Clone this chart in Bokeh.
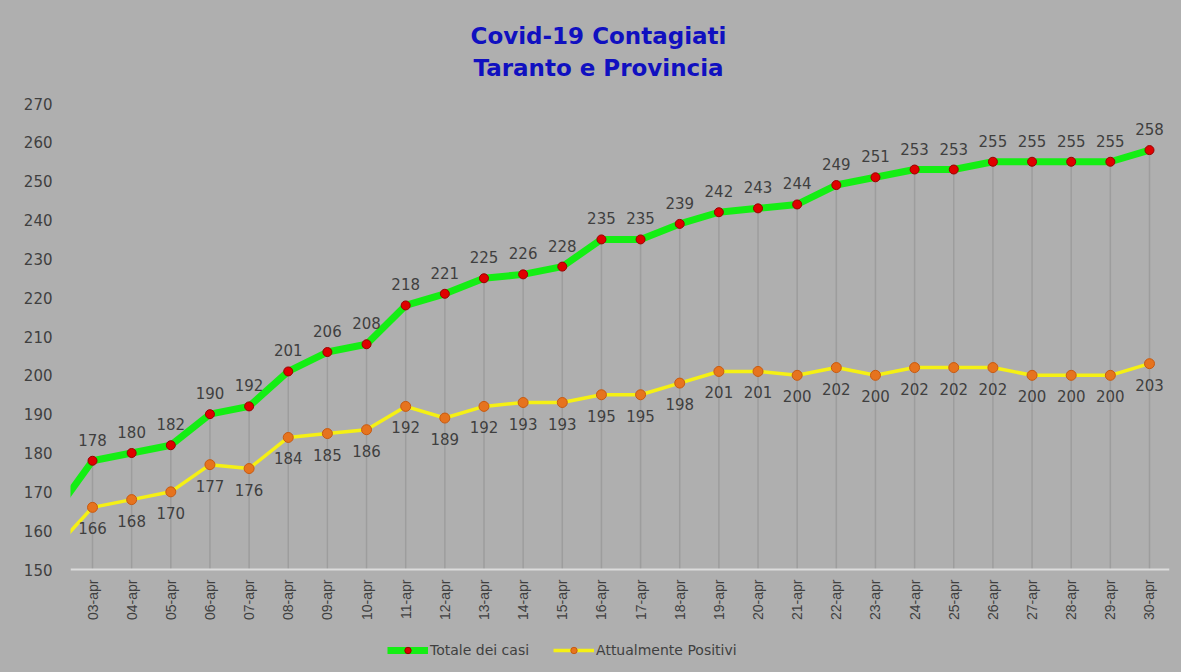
from bokeh.plotting import figure
from bokeh.models import ColumnDataSource, LabelSet, Label, Legend, LegendItem, FixedTicker, Range1d
from bokeh.core.properties import value
from bokeh.embed import file_html
from bokeh.resources import INLINE
import math

# ---- data ----
dates = ["02-apr", "03-apr", "04-apr", "05-apr", "06-apr", "07-apr", "08-apr", "09-apr", "10-apr",
         "11-apr", "12-apr", "13-apr", "14-apr", "15-apr", "16-apr", "17-apr", "18-apr",
         "19-apr", "20-apr", "21-apr", "22-apr", "23-apr", "24-apr", "25-apr", "26-apr",
         "27-apr", "28-apr", "29-apr", "30-apr"]
totale = [164, 178, 180, 182, 190, 192, 201, 206, 208, 218, 221, 225, 226, 228, 235, 235,
          239, 242, 243, 244, 249, 251, 253, 253, 255, 255, 255, 255, 258]
positivi = [155, 166, 168, 170, 177, 176, 184, 185, 186, 192, 189, 192, 193, 193, 195, 195,
            198, 201, 201, 200, 202, 200, 202, 202, 202, 200, 200, 200, 203]
y_ticks = [150, 160, 170, 180, 190, 200, 210, 220, 230, 240, 250, 260, 270]

idx = [i - 1 for i in range(len(dates))]  # 02-apr sits just left of the visible area
full = ColumnDataSource(dict(x=idx, tot=totale, pos=positivi))
vis = ColumnDataSource(dict(x=idx[1:], tot=totale[1:], pos=positivi[1:],
                            tot_s=[str(v) for v in totale[1:]],
                            pos_s=[str(v) for v in positivi[1:]],
                            base=[y_ticks[0]] * (len(dates) - 1)))

BG = "#afafaf"
NUMFONT = "DejaVu Sans"
TXT = "#3f3f3f"

W, H = 1181, 672
PX_PER_UNIT = 466 / 120.0  # 150 at 569px, 270 at 103px
y_lo = 150 - (H - 569) / PX_PER_UNIT
y_hi = 270 + 103 / PX_PER_UNIT

p = figure(width=W, height=H, output_backend="svg", toolbar_location=None,
           x_range=Range1d(-0.562, 27.511), y_range=Range1d(y_lo, y_hi), title=None)
p.styles = {"background-color": BG}
p.min_border_left = 70
p.min_border_right = 12
p.min_border_top = 0
p.min_border_bottom = 0
p.background_fill_color = BG
p.border_fill_color = BG
p.outline_line_color = None
p.xgrid.grid_line_color = None
p.ygrid.grid_line_color = None

# axes
p.xaxis.fixed_location = 150
p.xaxis.ticker = FixedTicker(ticks=idx[1:])
p.xaxis.major_label_overrides = {i: d for i, d in zip(idx[1:], dates[1:])}
p.xaxis.major_label_orientation = math.pi / 2
p.xaxis.major_tick_line_color = None
p.xaxis.minor_tick_line_color = None
p.xaxis.major_tick_out = 0
p.xaxis.axis_line_color = "#dcdcdc"
p.xaxis.axis_line_width = 2
p.xaxis.major_label_standoff = 10
p.xaxis.major_label_text_font = "Liberation Sans"
p.xaxis.major_label_text_font_size = "14px"
p.xaxis.major_label_text_color = TXT

p.yaxis.ticker = FixedTicker(ticks=y_ticks)
p.yaxis.axis_line_color = None
p.yaxis.major_tick_line_color = None
p.yaxis.minor_tick_line_color = None
p.yaxis.major_tick_out = 0
p.yaxis.major_label_standoff = 18
p.yaxis.major_label_text_font = NUMFONT
p.yaxis.major_label_text_font_size = "15px"
p.yaxis.major_label_text_color = TXT

# drop lines
p.segment(x0="x", y0="base", x1="x", y1="tot", source=vis, line_color="#9d9d9d", line_width=1.5)

# series
gl = p.line("x", "tot", source=full, line_color="#14ee14", line_width=7, line_join="round")
gm = p.scatter("x", "tot", source=vis, size=9, fill_color="#e00000", line_color="#9a0000", line_width=1)
yl = p.line("x", "pos", source=full, line_color="#f5f014", line_width=3.5, line_join="round")
ym = p.scatter("x", "pos", source=vis, size=10, fill_color="#e6731e", line_color="#c85a10", line_width=1)

# data labels
p.add_layout(LabelSet(x="x", y="tot", text="tot_s", source=vis, text_align="center",
                      text_baseline="bottom", y_offset=15, text_font=value(NUMFONT),
                      text_font_size=value("15px"), text_color=value(TXT)))
p.add_layout(LabelSet(x="x", y="pos", text="pos_s", source=vis, text_align="center",
                      text_baseline="top", y_offset=-15, text_font=value(NUMFONT),
                      text_font_size=value("15px"), text_color=value(TXT)))

# title (two lines), screen units inside the frame
for txt, yy in [("Covid-19 Contagiati", H - 35), ("Taranto e Provincia", H - 67)]:
    p.add_layout(Label(x=528, y=yy, x_units="screen", y_units="screen", text=txt,
                       text_align="center", text_baseline="middle", text_font=NUMFONT,
                       text_font_style="bold", text_font_size="23px", text_color="#1010c0"))

legend = Legend(items=[LegendItem(label="Totale dei casi", renderers=[gl, gm]),
                       LegendItem(label="Attualmente Positivi", renderers=[yl, ym])],
                location=(317, 14), orientation="horizontal")
legend.background_fill_alpha = 0
legend.border_line_color = None
legend.padding = 0
legend.margin = 0
legend.spacing = 24
legend.glyph_width = 41
legend.glyph_height = 16
legend.label_height = 16
legend.label_standoff = 2
legend.label_text_font = NUMFONT
legend.label_text_font_size = "14px"
legend.label_text_color = TXT
p.add_layout(legend, "center")

open("out.html", "w").write(file_html(p, INLINE))
